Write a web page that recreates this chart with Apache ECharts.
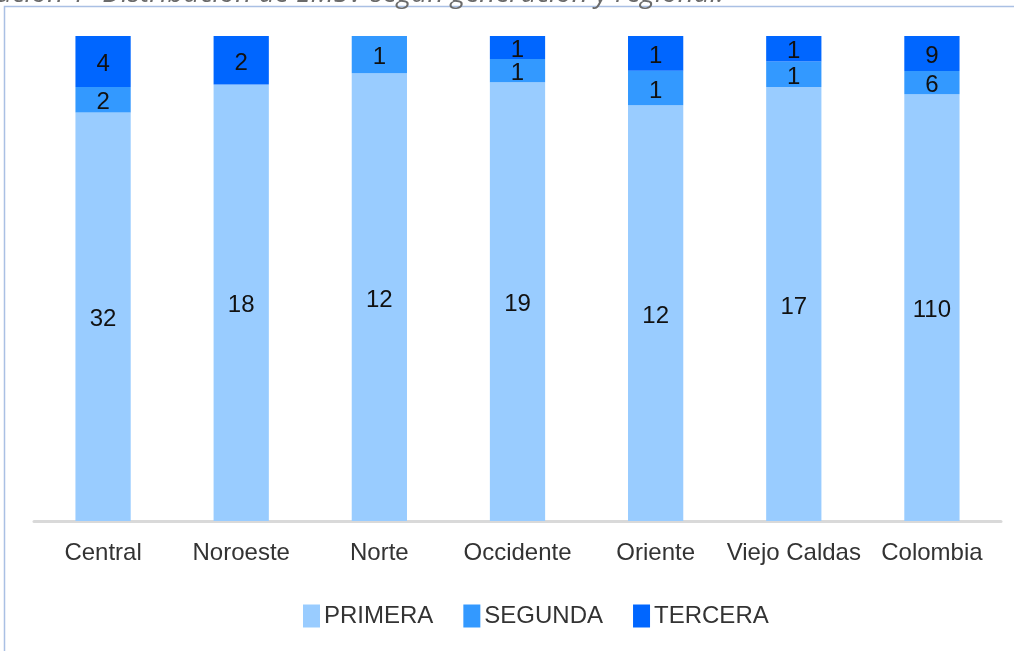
<!DOCTYPE html>
<html>
<head>
<meta charset="utf-8">
<script src="https://cdn.jsdelivr.net/npm/echarts@6/dist/echarts.min.js"></script>
<style>
html,body{margin:0;padding:0;background:#fff;}
#c{width:1014px;height:651px;}
</style>
</head>
<body>
<div id="c"></div>
<script>
const categories = ['Central', 'Noroeste', 'Norte', 'Occidente', 'Oriente', 'Viejo Caldas', 'Colombia'];
const primera = [32, 18, 12, 19, 12, 17, 110];
const segunda = [2, 0, 1, 1, 1, 1, 6];
const tercera = [4, 2, 0, 1, 1, 1, 9];
const seriesNames = ['PRIMERA', 'SEGUNDA', 'TERCERA'];
const titleText = 'ación 1- Distribución de EMSV según generación y regional.';

const raw = [primera, segunda, tercera];
const totals = categories.map((_, i) => primera[i] + segunda[i] + tercera[i]);
const colors = ['#99ccff', '#3399ff', '#0066ff'];
const font = 'Liberation Sans, Arial, sans-serif';

const chart = echarts.init(document.getElementById('c'));
chart.setOption({
  animation: false,
  graphic: [
    {type: 'rect', shape: {x: 4.5, y: 6.5, width: 1100, height: 700}, style: {fill: 'none', stroke: '#aac0e4', lineWidth: 1.5}, z: 0},
    {type: 'text', x: -4, y: 8, style: {text: titleText, fill: '#6b6b6b', font: 'italic 28px "Open Sans", sans-serif', verticalAlign: 'bottom'}}
  ],
  grid: {left: 34, right: 13, top: 36, bottom: 130, containLabel: false},
  legend: {
    data: seriesNames,
    bottom: 18,
    left: 298,
    icon: 'rect',
    itemWidth: 17,
    itemHeight: 23,
    itemGap: 30,
    textStyle: {fontFamily: font, fontSize: 24, color: '#333', padding: [0, 0, 0, -1]}
  },
  xAxis: {
    type: 'category',
    data: categories,
    axisTick: {show: false},
    axisLine: {lineStyle: {color: '#d9d9d9', width: 3}},
    axisLabel: {fontFamily: font, fontSize: 24, color: '#333', margin: 20, interval: 0}
  },
  yAxis: {
    type: 'value', min: 0, max: 100,
    show: false, splitLine: {show: false}
  },
  series: raw.map((arr, s) => ({
    name: seriesNames[s],
    type: 'bar',
    stack: 'total',
    barWidth: '40%',
    itemStyle: {color: colors[s]},
    label: {
      show: true,
      position: 'inside',
      offset: [0, 3],
      fontFamily: font,
      fontSize: 24,
      color: '#111',
      formatter: p => arr[p.dataIndex] > 0 ? String(arr[p.dataIndex]) : ''
    },
    data: arr.map((v, i) => v / totals[i] * 100)
  }))
});
</script>
</body>
</html>
